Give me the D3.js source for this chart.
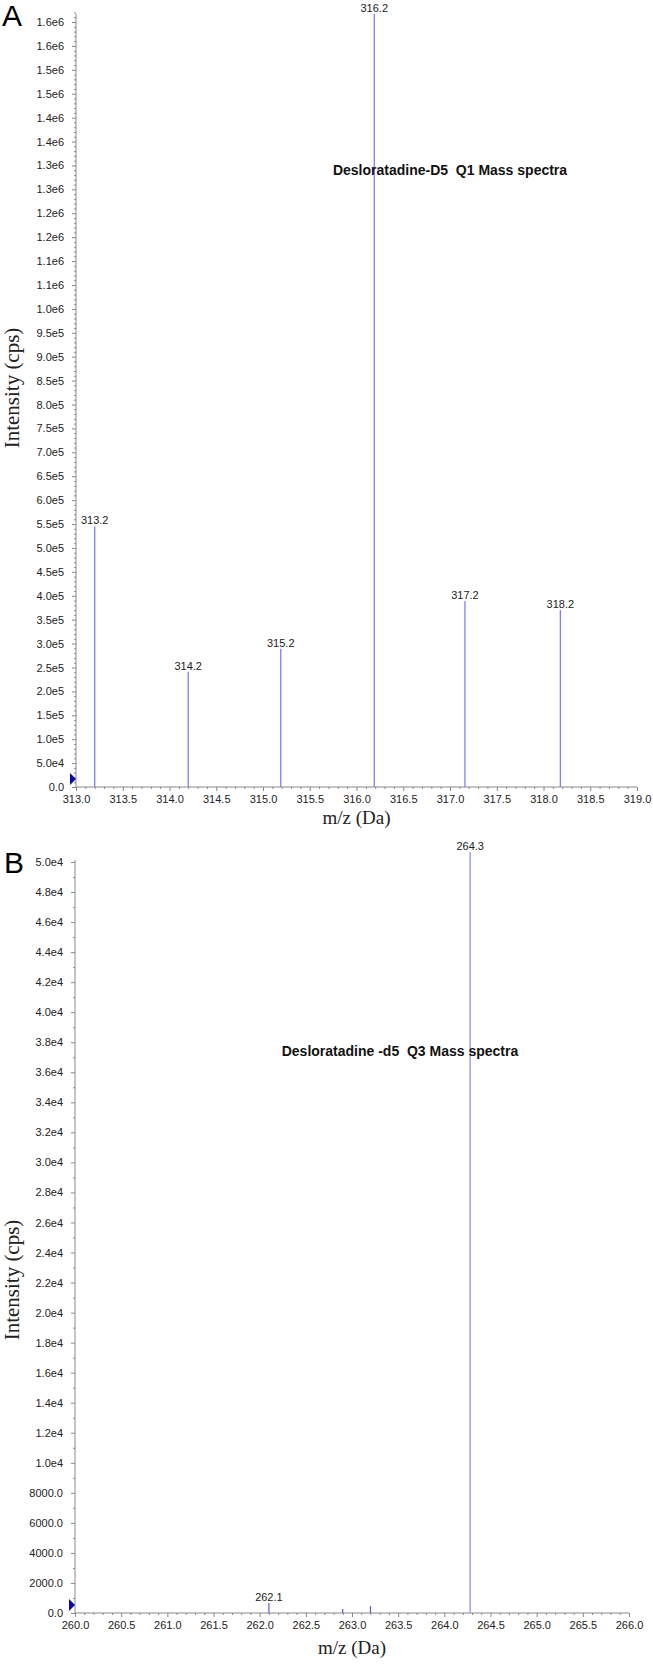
<!DOCTYPE html>
<html><head><meta charset="utf-8">
<script src="https://cdn.jsdelivr.net/npm/d3@7"></script>
<style>
html,body{margin:0;padding:0;background:#fff;}
svg{display:block;}
.tick text{font-family:"Liberation Sans",Arial,sans-serif;font-size:11px;fill:#222;}
.tick line{stroke:#888;}
</style></head>
<body><svg id="chart" width="653" height="1668"></svg>
<script>
// ---------- Panel A data ----------
const mzA = [313.2, 314.2, 315.19, 316.19, 317.16, 318.18];
const intensityA = [545000, 241000, 289000, 1617000, 389000, 370000];
const peakLabelsA = ["313.2", "314.2", "315.2", "316.2", "317.2", "318.2"];
const xTickLabelsA = ["313.0","313.5","314.0","314.5","315.0","315.5","316.0","316.5","317.0","317.5","318.0","318.5","319.0"];
const yTickLabelsA = ["0.0","5.0e4","1.0e5","1.5e5","2.0e5","2.5e5","3.0e5","3.5e5","4.0e5","4.5e5","5.0e5","5.5e5","6.0e5","6.5e5","7.0e5","7.5e5","8.0e5","8.5e5","9.0e5","9.5e5","1.0e6","1.1e6","1.1e6","1.2e6","1.2e6","1.3e6","1.3e6","1.4e6","1.4e6","1.5e6","1.5e6","1.6e6","1.6e6"];
const titleA = "Desloratadine-D5  Q1 Mass spectra";

// ---------- Panel B data ----------
const mzB = [262.1, 262.9, 263.2, 264.28];
const intensityB = [660, 260, 460, 50650];
const peakLabelsB = ["262.1", "", "", "264.3"];
const xTickLabelsB = ["260.0","260.5","261.0","261.5","262.0","262.5","263.0","263.5","264.0","264.5","265.0","265.5","266.0"];
const yTickLabelsB = ["0.0","2000.0","4000.0","6000.0","8000.0","1.0e4","1.2e4","1.4e4","1.6e4","1.8e4","2.0e4","2.2e4","2.4e4","2.6e4","2.8e4","3.0e4","3.2e4","3.4e4","3.6e4","3.8e4","4.0e4","4.2e4","4.4e4","4.6e4","4.8e4","5.0e4"];
const titleB = "Desloratadine -d5  Q3 Mass spectra";

const svg = d3.select("#chart");
const SANS = '"Liberation Sans", Arial, sans-serif';
const SERIF = '"Liberation Serif", "Times New Roman", serif';

function panel(o) {
  const g = svg.append("g");
  const x = d3.scaleLinear().domain(o.xDomain).range([o.left, o.right]);
  const y = d3.scaleLinear().domain([0, o.yMax]).range([o.bottom, o.yMaxPx]);

  const yTicks = o.yTickLabels.map((_, i) => i * o.yStep);
  const yMinor = d3.range(0, o.yMax + o.yStep / 2, o.yMinorStep).filter(v => yTicks.every(t => Math.abs(t - v) > 1e-6));
  const xTicks = o.xTickLabels.map(s => +s);
  const xMinor = d3.range(0, 61).map(i => o.xDomain[0] + i * 0.1).filter(v => xTicks.every(t => Math.abs(t - v) > 1e-6));

  // y axis
  const ya = g.append("g").attr("transform", `translate(${o.left},0)`)
    .call(d3.axisLeft(y).tickValues(yTicks).tickFormat((d, i) => o.yTickLabels[i]).tickSize(4).tickPadding(8));
  ya.select(".domain").remove();
  const ym = g.append("g").attr("transform", `translate(${o.left},0)`)
    .call(d3.axisLeft(y).tickValues(yMinor).tickFormat("").tickSize(2));
  ym.select(".domain").remove();

  // x axis
  const xa = g.append("g").attr("transform", `translate(0,${o.bottom})`)
    .call(d3.axisBottom(x).tickValues(xTicks).tickFormat((d, i) => o.xTickLabels[i]).tickSize(4).tickPadding(4));
  xa.select(".domain").remove();
  const xm = g.append("g").attr("transform", `translate(0,${o.bottom})`)
    .call(d3.axisBottom(x).tickValues(xMinor).tickFormat("").tickSize(2));
  xm.select(".domain").remove();

  g.selectAll(".tick line").attr("stroke", "#888");

  // axis lines
  g.append("line").attr("x1", o.left).attr("x2", o.left).attr("y1", o.axisTop).attr("y2", o.bottom)
    .attr("stroke", "#888").attr("stroke-width", 1);
  g.append("line").attr("x1", o.left).attr("x2", o.right).attr("y1", o.bottom).attr("y2", o.bottom)
    .attr("stroke", "#888").attr("stroke-width", 1);

  // peaks
  g.selectAll(".peak").data(o.mz).join("line")
    .attr("x1", d => x(d)).attr("x2", d => x(d))
    .attr("y1", y(0)).attr("y2", (d, i) => y(o.intensity[i]))
    .attr("stroke", (d, i) => o.colors[i]).attr("stroke-width", (d, i) => o.widths[i]);

  g.selectAll(".plabel").data(o.mz).join("text")
    .attr("x", d => x(d)).attr("y", (d, i) => y(o.intensity[i]) - 2)
    .attr("text-anchor", "middle").attr("font-family", SANS).attr("font-size", 11).attr("fill", "#222")
    .text((d, i) => o.peakLabels[i]);

  // threshold marker
  const my = y(0) - 8;
  g.append("path").attr("d", `M${o.left - 6},${my - 6}L${o.left},${my}L${o.left - 6},${my + 6}Z`).attr("fill", "#0a0aa8");

  // title
  g.append("text").attr("x", o.titleX).attr("y", o.titleY).attr("font-family", SANS).attr("font-weight", "bold")
    .attr("font-size", 14).attr("fill", "#111").style("white-space", "pre").attr("text-anchor", "middle").text(o.title);

  // axis titles
  g.append("text").attr("x", (o.left + o.right) / 2).attr("y", o.xTitleY).attr("text-anchor", "middle")
    .attr("font-family", SERIF).attr("font-size", 19).attr("fill", "#222").text("m/z (Da)");
  g.append("text").attr("transform", `translate(19,${o.yTitleCenter}) rotate(-90)`).attr("text-anchor", "middle")
    .attr("font-family", SERIF).attr("font-size", 21).attr("fill", "#222").text("Intensity (cps)");

  // panel letter
  g.append("text").attr("x", o.letterX).attr("y", o.letterY).attr("font-family", SANS).attr("font-size", 30)
    .attr("fill", "#000").text(o.letter);
}

panel({
  xDomain: [313, 319], left: 76, right: 637, bottom: 787, yMax: 1.6e6, yMaxPx: 22, axisTop: 14,
  yStep: 5e4, yMinorStep: 1e4, yTickLabels: yTickLabelsA, xTickLabels: xTickLabelsA,
  mz: mzA, intensity: intensityA, peakLabels: peakLabelsA,
  colors: mzA.map(() => "#7474ff"), widths: mzA.map(() => 1.2),
  title: titleA, titleX: 450, titleY: 175, xTitleY: 824, yTitleCenter: 388,
  letter: "A", letterX: 2, letterY: 26
});

panel({
  xDomain: [260, 266], left: 75, right: 629, bottom: 1613, yMax: 5e4, yMaxPx: 862, axisTop: 860,
  yStep: 2000, yMinorStep: 1000, yTickLabels: yTickLabelsB, xTickLabels: xTickLabelsB,
  mz: mzB, intensity: intensityB, peakLabels: peakLabelsB,
  colors: ["#5a5ae8", "#5a5ae8", "#5a5ae8", "#a4a4ff"], widths: [1.2, 1.2, 1.2, 1.6],
  title: titleB, titleX: 400, titleY: 1056, xTitleY: 1654, yTitleCenter: 1280,
  letter: "B", letterX: 4, letterY: 873
});
</script></body></html>
